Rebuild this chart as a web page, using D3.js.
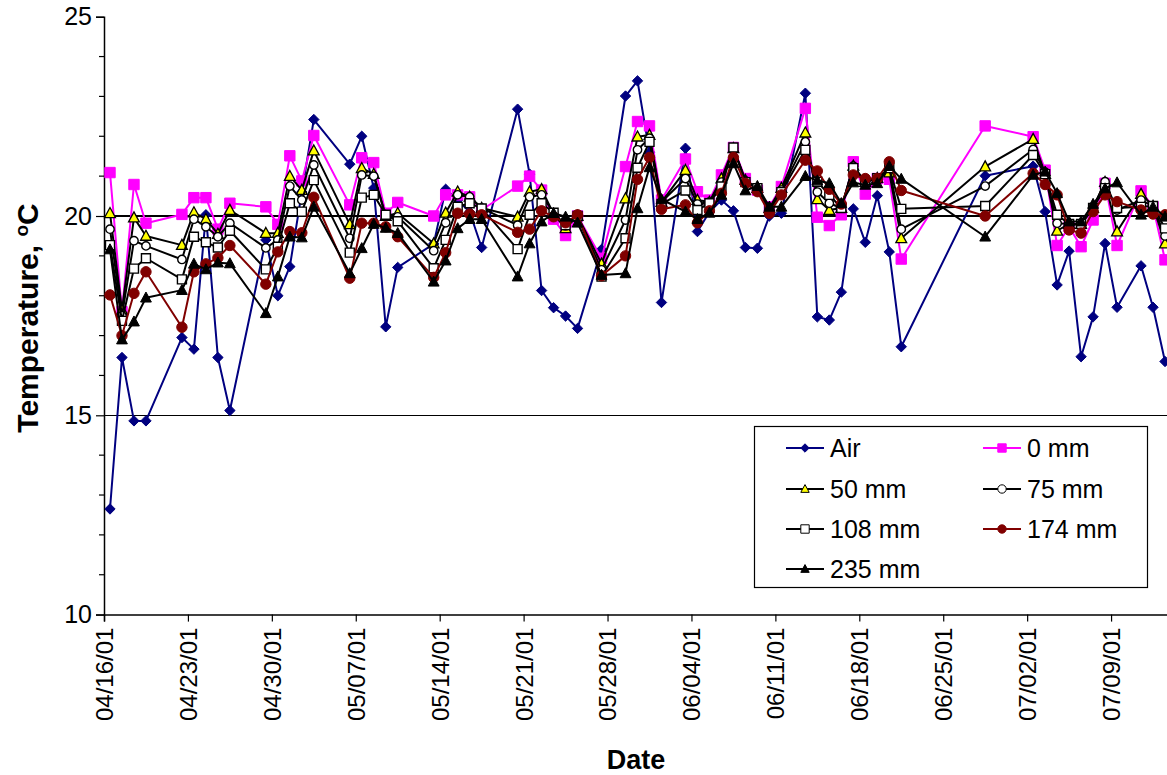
<!DOCTYPE html>
<html>
<head>
<meta charset="utf-8">
<script src="https://cdn.jsdelivr.net/npm/d3@7"></script>
<style>
  html, body { margin: 0; padding: 0; background: #fff; }
  svg { display: block; }
  text { font-family: "Liberation Sans", Arial, sans-serif; fill: #000; }
</style>
</head>
<body>
<svg id="chart" width="1167" height="775"></svg>
<script>
// ---------------- DATA ----------------
const dates = ["04/16/01","04/17/01","04/18/01","04/19/01","04/22/01","04/23/01","04/24/01","04/25/01","04/26/01",
"04/29/01","04/30/01","05/01/01","05/02/01","05/03/01","05/06/01","05/07/01","05/08/01","05/09/01","05/10/01",
"05/13/01","05/14/01","05/15/01","05/16/01","05/17/01","05/20/01","05/21/01","05/22/01","05/23/01","05/24/01",
"05/25/01","05/27/01","05/29/01","05/30/01","05/31/01","06/01/01","06/03/01","06/04/01","06/05/01","06/06/01",
"06/07/01","06/08/01","06/09/01","06/10/01","06/11/01","06/13/01","06/14/01","06/15/01","06/16/01","06/17/01",
"06/18/01","06/19/01","06/20/01","06/21/01","06/28/01","07/02/01","07/03/01","07/04/01","07/05/01","07/06/01",
"07/07/01","07/08/01","07/09/01","07/11/01","07/12/01","07/13/01"];

const air = [12.65,16.45,14.86,14.86,16.95,16.66,20.03,16.45,15.12,
19.4,18.0,18.73,20.6,22.42,21.3,22.0,20.7,17.22,18.71,
19.3,20.67,20.4,20.1,19.21,22.68,21.05,18.13,17.7,17.49,
17.18,19.16,23.01,23.39,21.6,17.83,21.7,19.61,20.1,20.4,
20.13,19.21,19.19,20.0,20.07,23.08,17.47,17.39,18.09,20.18,
19.34,20.51,19.1,16.72,21.01,21.25,20.11,18.27,19.12,16.47,
17.47,19.31,17.71,18.75,17.71,16.35];

const mm0 = [21.09,17.6,20.79,19.82,20.04,20.46,20.46,19.67,20.32,
20.23,19.79,21.51,20.88,22.02,20.28,21.46,21.34,20.07,20.34,
20.0,20.53,20.53,20.48,20.15,20.75,21.0,20.65,19.92,19.51,
20.0,18.94,21.24,22.37,22.26,20.4,21.43,20.61,20.4,21.03,
21.72,20.94,20.65,20.23,20.74,22.7,19.97,19.76,20.03,21.36,
20.55,20.94,20.92,18.92,22.26,21.99,21.15,19.26,19.73,19.23,
19.9,20.82,19.26,20.63,20.23,18.9];

const mm50 = [20.07,17.64,19.96,19.5,19.27,20.09,19.92,19.55,20.15,
19.57,19.57,21.0,20.65,21.64,19.79,21.2,21.05,20.0,20.07,
19.31,20.08,20.61,20.48,20.2,19.98,20.61,20.67,20.05,19.69,
20.0,18.8,20.44,21.99,22.03,20.35,21.15,20.4,20.35,20.94,
21.7,20.9,20.7,20.2,20.7,22.09,20.42,20.15,20.2,21.26,
20.85,20.95,21.09,19.44,21.24,21.93,21.05,19.63,19.8,19.8,
20.2,20.85,19.61,20.55,20.25,19.31];

const mm75 = [19.67,17.5,19.38,19.25,18.91,19.92,19.73,19.48,19.82,
19.2,19.4,20.75,20.4,21.28,19.44,21.03,21.0,20.0,19.98,
19.13,19.83,20.53,20.48,20.2,19.77,20.48,20.53,20.08,19.75,
20.0,18.65,19.9,21.66,21.95,20.35,20.94,20.3,20.35,20.85,
21.7,20.88,20.7,20.15,20.65,21.86,20.6,20.32,20.2,21.25,
20.85,20.95,21.2,19.67,20.75,21.67,21.1,19.82,19.8,19.8,
20.2,20.86,20.15,20.4,20.25,19.5];

const mm108 = [19.27,17.37,18.68,18.94,18.41,19.48,19.34,19.21,19.63,
18.66,19.23,20.32,20.11,20.9,19.08,20.46,20.53,20.03,19.87,
18.69,19.4,20.23,20.32,20.19,19.17,20.03,20.32,20.08,19.77,
20.0,18.48,19.44,21.21,21.86,20.3,20.64,20.15,20.32,20.74,
21.72,20.85,20.7,20.15,20.6,21.66,20.86,20.53,20.2,21.2,
20.85,20.95,21.2,20.18,20.25,21.53,21.05,20.03,19.8,19.8,
20.2,20.7,20.2,20.23,20.25,19.69];

const mm174 = [18.02,17.0,18.06,18.6,17.21,18.6,18.8,18.95,19.26,
18.29,19.1,19.61,19.58,20.47,18.44,19.82,19.82,19.73,19.48,
18.46,19.08,20.07,20.05,20.03,19.59,19.67,20.13,19.98,19.83,
20.03,18.5,19.0,20.92,21.47,20.17,20.28,19.83,20.13,20.57,
21.47,20.82,20.61,20.07,20.53,21.4,21.13,20.67,20.3,21.03,
20.94,20.94,21.36,20.64,20.0,21.07,20.79,20.53,19.65,19.57,
20.11,20.53,20.36,20.15,20.05,20.03];

const mm235 = [19.16,16.9,17.35,17.95,18.14,18.8,18.66,18.83,18.81,
17.56,18.48,19.48,19.46,20.23,18.56,19.19,19.8,19.7,19.57,
18.35,18.88,19.69,19.92,19.92,18.48,19.31,19.86,20.07,19.98,
19.83,18.52,18.56,20.19,21.22,20.42,20.11,19.92,20.08,20.53,
21.32,20.64,20.75,20.23,20.23,21.0,20.89,20.82,20.32,20.84,
20.78,20.82,21.25,20.93,19.48,21.03,21.11,20.57,19.86,19.86,
20.3,20.69,20.84,20.03,20.23,19.98];

const seriesNames = ["Air","0 mm","50 mm","75 mm","108 mm","174 mm","235 mm"];
const yTicks = [10, 15, 20, 25];
const xStart = "04/16/01", xEnd = "07/15/01";

// ---------------- STYLES ----------------
const styles = {
  "Air":    {line:"#000080", shape:"diamond",  size:5.2, fill:"#000080", stroke:"#000080", sw:1},
  "0 mm":   {line:"#FF00FF", shape:"square",   size:5.2, fill:"#FF00FF", stroke:"#FF00FF", sw:1},
  "50 mm":  {line:"#000000", shape:"triangle", size:5.4, fill:"#FFFF00", stroke:"#000000", sw:1.3},
  "75 mm":  {line:"#000000", shape:"circle",   size:4.2, fill:"#FFFFFF", stroke:"#000000", sw:1.4},
  "108 mm": {line:"#000000", shape:"square",   size:4.5, fill:"#FFFFFF", stroke:"#000000", sw:1.4},
  "174 mm": {line:"#800000", shape:"circle",   size:5.2, fill:"#800000", stroke:"#800000", sw:1},
  "235 mm": {line:"#000000", shape:"triangle", size:5.4, fill:"#000000", stroke:"#000000", sw:1}
};

function shapePath(shape, r) {
  switch (shape) {
    case "diamond": return `M0,${-r}L${r},0L0,${r}L${-r},0Z`;
    case "square": return `M${-r},${-r}H${r}V${r}H${-r}Z`;
    case "triangle": return `M0,${-r*1.05}L${r},${r*0.8}L${-r},${r*0.8}Z`;
    case "circle": return `M${r},0A${r},${r} 0 1,1 ${-r},0A${r},${r} 0 1,1 ${r},0Z`;
  }
}

// ---------------- CHART ----------------
const svg = d3.select("#chart");
const parse = d3.timeParse("%m/%d/%y");
const fmt = d3.timeFormat("%m/%d/%y");

const pLeft = 104, pTop = 16.7, pBottom = 614.6, pRight = 1183;
const x = d3.scaleTime().domain([parse(xStart), parse(xEnd)]).range([pLeft, pRight]);
const y = d3.scaleLinear().domain([10, 25]).range([pBottom, pTop]);
const px = d => x(d3.timeHour.offset(parse(d), 12));

// gridlines
svg.append("g").selectAll("line").data(yTicks.filter(t => t > 10 && t < 25)).join("line")
  .attr("x1", pLeft).attr("x2", 1167).attr("y1", d => y(d)).attr("y2", d => y(d))
  .attr("stroke", "#000").attr("stroke-width", 1.2).attr("shape-rendering", "crispEdges");

// y axis
const yAxis = d3.axisLeft(y).tickValues(yTicks).tickSize(8).tickPadding(4).tickFormat(d3.format("d"));
const gy = svg.append("g").attr("transform", `translate(${pLeft},0)`).call(yAxis);
gy.select(".domain").attr("stroke", "#000").attr("stroke-width", 1.5);
gy.selectAll(".tick line").attr("stroke", "#000").attr("stroke-width", 1.2);
gy.selectAll(".tick text").style("font-size", "25px").style("font-family", "Liberation Sans, Arial, sans-serif");
// minor ticks
const minor = d3.range(10, 26).filter(v => v % 5 !== 0);
svg.append("g").selectAll("line").data(minor).join("line")
  .attr("x1", pLeft - 5).attr("x2", pLeft).attr("y1", d => y(d)).attr("y2", d => y(d))
  .attr("stroke", "#000").attr("stroke-width", 1.2);

// x axis
const xTickVals = d3.timeMonday.range(parse(xStart), parse(xEnd));
const xAxis = d3.axisBottom(x).tickValues(xTickVals).tickSize(7).tickFormat(fmt);
const gx = svg.append("g").attr("transform", `translate(0,${pBottom})`).call(xAxis);
gx.select(".domain").attr("stroke", "#000").attr("stroke-width", 1.5);
gx.selectAll(".tick line").attr("stroke", "#000").attr("stroke-width", 1.2);
gx.selectAll(".tick text")
  .style("font-size", "24px").style("font-family", "Liberation Sans, Arial, sans-serif")
  .attr("transform", "rotate(-90)")
  .attr("text-anchor", "end")
  .attr("x", -13).attr("y", 0).attr("dy", "0.35em");

// series
const allSeries = [air, mm0, mm50, mm75, mm108, mm174, mm235];
const line = d3.line().x(d => px(d.date)).y(d => y(d.v));
seriesNames.forEach((name, i) => {
  const st = styles[name];
  const pts = dates.map((d, j) => ({date: d, v: allSeries[i][j]}));
  const g = svg.append("g");
  g.append("path").datum(pts).attr("d", line)
    .attr("fill", "none").attr("stroke", st.line).attr("stroke-width", 2).attr("stroke-linejoin", "round");
  g.selectAll("path.m").data(pts).join("path").attr("class", "m")
    .attr("transform", d => `translate(${px(d.date)},${y(d.v)})`)
    .attr("d", shapePath(st.shape, st.size))
    .attr("fill", st.fill).attr("stroke", st.stroke).attr("stroke-width", st.sw);
});

// axis titles
svg.append("text").attr("x", 636).attr("y", 769).attr("text-anchor", "middle")
  .style("font-size", "27px").style("font-weight", "bold").text("Date");
const yt = svg.append("text").attr("transform", `translate(38,318) rotate(-90)`)
  .attr("text-anchor", "middle").style("font-size", "30px").style("font-weight", "bold");
yt.append("tspan").text("Temperature, ");
yt.append("tspan").attr("dy", -10).style("font-size", "19px").text("o");
yt.append("tspan").attr("dy", 10).text("C");

// legend
const lg = svg.append("g");
lg.append("rect").attr("x", 754.5).attr("y", 426.5).attr("width", 393).attr("height", 161)
  .attr("fill", "#fff").attr("stroke", "#000").attr("stroke-width", 1.2);
const colX = [786, 983], rowY = [448, 489, 529, 569];
seriesNames.forEach((name, i) => {
  const st = styles[name];
  const cx = colX[i % 2], cy = rowY[Math.floor(i / 2)];
  const g = lg.append("g");
  g.append("line").attr("x1", cx).attr("x2", cx + 38).attr("y1", cy).attr("y2", cy)
    .attr("stroke", st.line).attr("stroke-width", 2);
  g.append("path").attr("transform", `translate(${cx + 19},${cy})`)
    .attr("d", shapePath(st.shape, 4.2))
    .attr("fill", st.fill).attr("stroke", st.stroke).attr("stroke-width", 1);
  g.append("text").attr("x", cx + 44).attr("y", cy).attr("dy", "0.35em")
    .style("font-size", "25px").text(name);
});
</script>
</body>
</html>
